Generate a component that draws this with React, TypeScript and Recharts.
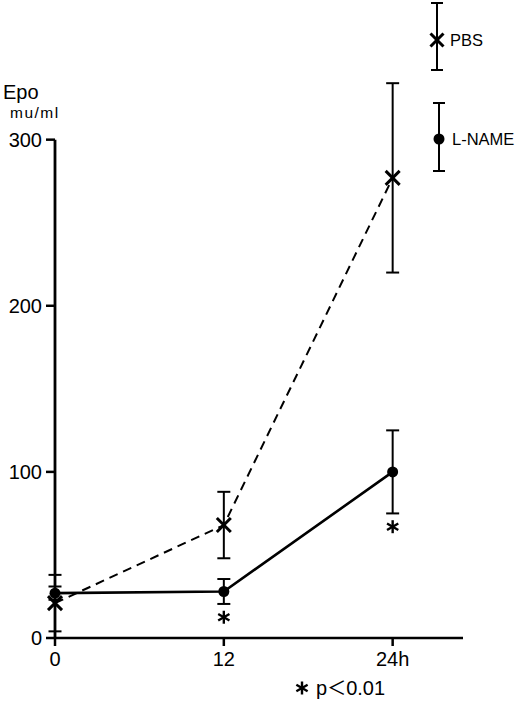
import { ComposedChart, Line, XAxis, YAxis, ErrorBar, ReferenceLine, Scatter } from 'recharts';

const HOURS = [0, 12, 24];
const PBS = [21, 68, 277];
const PBS_SD = [17, 20, 57];
const LNAME = [27, 28, 100];
const LNAME_SD = [4, 7.5, 25];
const SIGNIFICANT = [false, true, true];
const Y_TICKS = [0, 100, 200, 300];

const FONT = '"Liberation Sans", Arial, sans-serif';

const data = HOURS.map((h, i) => ({
  hour: h,
  pbs: PBS[i],
  pbsErr: PBS_SD[i],
  lname: LNAME[i],
  lnameErr: LNAME_SD[i],
}));

// asterisks sit just under the lower error bar of L-NAME
const stars = HOURS.map((h, i) => ({ hour: h, star: LNAME[i] - LNAME_SD[i] - 8 })).filter(
  (_, i) => SIGNIFICANT[i]
);

const Cross = ({ cx, cy, size = 7 }: any) => {
  if (cx == null || cy == null) return null;
  const r = size;
  return (
    <g stroke="#000" strokeWidth={3} strokeDasharray="none">
      <line x1={cx - r} y1={cy - r} x2={cx + r} y2={cy + r} />
      <line x1={cx - r} y1={cy + r} x2={cx + r} y2={cy - r} />
    </g>
  );
};

const Dot = ({ cx, cy }: any) => {
  if (cx == null || cy == null) return null;
  return <circle cx={cx} cy={cy} r={5.5} fill="#000" stroke="none" />;
};

const Star = ({ cx, cy }: any) => {
  if (cx == null || cy == null) return null;
  const r = 6.5;
  const a = [90, 30, 150].map((d) => (d * Math.PI) / 180);
  return (
    <g stroke="#000" strokeWidth={2.4}>
      {a.map((t, i) => (
        <line
          key={i}
          x1={cx - r * Math.cos(t)}
          y1={cy - r * Math.sin(t)}
          x2={cx + r * Math.cos(t)}
          y2={cy + r * Math.sin(t)}
        />
      ))}
    </g>
  );
};

const XTick = ({ x, y, payload }: any) => (
  <text x={x} y={y + 18} textAnchor="middle" fontSize={20} fontFamily={FONT} fill="#000">
    {payload.value === 24 ? '24h' : payload.value}
  </text>
);

export default function App() {
  return (
    <div style={{ position: 'absolute', left: 0, top: 0, width: 520, height: 701, background: '#fff' }}>
      <ComposedChart
        width={520}
        height={701}
        data={data}
        margin={{ top: 40, right: 57, bottom: 33, left: 10 }}
      >
        <XAxis
          type="number"
          dataKey="hour"
          domain={[0, 29]}
          ticks={HOURS}
          tick={<XTick />}
          tickSize={8}
          height={30}
          axisLine={{ stroke: '#000', strokeWidth: 2.5 }}
          tickLine={{ stroke: '#000', strokeWidth: 2.5 }}
        />
        <YAxis
          type="number"
          domain={[0, 360]}
          ticks={Y_TICKS}
          width={45}
          tickSize={9}
          tickMargin={4}
          axisLine={false}
          tickLine={{ stroke: '#000', strokeWidth: 2.5 }}
          tick={{ fontSize: 20, fill: '#000', fontFamily: FONT }}
        />
        <ReferenceLine
          segment={[
            { x: 0, y: 0 },
            { x: 0, y: 300 },
          ]}
          stroke="#000"
          strokeWidth={2.8}
        />
        <Line
          dataKey="pbs"
          stroke="#000"
          strokeWidth={2}
          strokeDasharray="9 6"
          dot={<Cross />}
          activeDot={false}
          isAnimationActive={false}
        >
          <ErrorBar dataKey="pbsErr" width={6.5} stroke="#000" strokeWidth={2} direction="y" />
        </Line>
        <Line
          dataKey="lname"
          stroke="#000"
          strokeWidth={2.6}
          dot={<Dot />}
          activeDot={false}
          isAnimationActive={false}
        >
          <ErrorBar dataKey="lnameErr" width={6.5} stroke="#000" strokeWidth={2} direction="y" />
        </Line>
        <Scatter data={stars} dataKey="star" shape={<Star />} isAnimationActive={false} />
      </ComposedChart>
      <svg
        width={520}
        height={701}
        style={{ position: 'absolute', left: 0, top: 0, pointerEvents: 'none' }}
        fontFamily={FONT}
      >
        <text x={3} y={99} fontSize={20} fill="#000">Epo</text>
        <text x={10} y={118} fontSize={15.5} letterSpacing={1.5} fill="#000">mu/ml</text>
        {/* legend */}
        <g stroke="#000" strokeWidth={2}>
          <line x1={437} y1={3} x2={437} y2={70} />
          <line x1={431} y1={3} x2={443} y2={3} />
          <line x1={431} y1={70} x2={443} y2={70} />
          <line x1={439} y1={103} x2={439} y2={171} />
          <line x1={433} y1={103} x2={445} y2={103} />
          <line x1={433} y1={171} x2={445} y2={171} />
        </g>
        <Cross cx={437} cy={40} size={6.5} />
        <Dot cx={439} cy={139} />
        <text x={450} y={46} fontSize={16.5} fill="#000">PBS</text>
        <text x={452} y={145} fontSize={16.5} fill="#000">L-NAME</text>
        {/* footnote */}
        <Star cx={302} cy={688} />
        <text x={316} y={695} fontSize={20} fill="#000">
          p<tspan fontFamily='"Noto Sans CJK JP", sans-serif' fontSize={19}>＜</tspan>0.01
        </text>
      </svg>
    </div>
  );
}
